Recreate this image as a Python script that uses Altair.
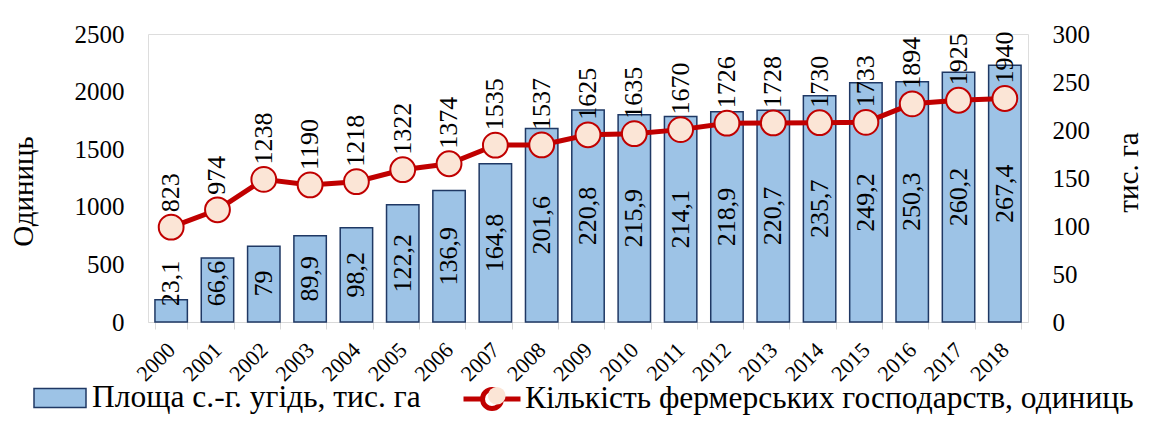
import altair as alt
import pandas as pd

years = [str(y) for y in range(2000, 2019)]
farms = [823, 974, 1238, 1190, 1218, 1322, 1374, 1535, 1537, 1625,
         1635, 1670, 1726, 1728, 1730, 1733, 1894, 1925, 1940]
area = [23.1, 66.6, 79, 89.9, 98.2, 122.2, 136.9, 164.8, 201.6, 220.8,
        215.9, 214.1, 218.9, 220.7, 235.7, 249.2, 250.3, 260.2, 267.4]
left_ticks = [0, 500, 1000, 1500, 2000, 2500]
right_ticks = [0, 50, 100, 150, 200, 250, 300]
area_name = "Площа с.-г. угідь, тис. га"
farms_name = "Кількість фермерських господарств, одиниць"

df = pd.DataFrame({
    "year": years, "farms": farms, "area": area,
    "s_area": area_name, "s_farms": farms_name, "s_farms2": farms_name,
})

FONT = "Liberation Serif"
GRAY = "#D9D9D9"
LEG_FS = 31.5
DY = -3
LINE_SYMBOL = ("M-1,0H-0.333 M0.333,0H1 M0.333,0A0.333,0.333 0 1,1 -0.333,0"
               "A0.333,0.333 0 1,1 0.333,0")

x = alt.X("year:N", sort=years,
          scale=alt.Scale(paddingInner=0.3, paddingOuter=0.15),
          axis=alt.Axis(title=None, labelAngle=315, labelAlign="right", labelBaseline="middle",
                        labelFontSize=22, labelFont=FONT, labelColor="black", labelPadding=17,
                        tickBand="extent", tickSize=7, tickColor=GRAY, domainColor=GRAY,
                        grid=False))

right_axis = alt.Axis(orient="right", values=right_ticks, format="d", title="тис. га",
                      titleAngle=270, titleX=100, titleY=138, titleAlign="center",
                      titleBaseline="middle", titleFontSize=29, titleFont=FONT,
                      titleFontWeight="normal", titleColor="black",
                      labelFontSize=25, labelFont=FONT, labelColor="black", labelPadding=24,
                      ticks=False, domain=False, grid=False)
left_axis = alt.Axis(orient="left", values=left_ticks, format="d", title="Одиниць",
                     titleAngle=270, titleX=-125, titleY=157, titleAlign="center",
                     titleBaseline="middle", titleFontSize=29, titleFont=FONT,
                     titleFontWeight="normal", titleColor="black",
                     labelFontSize=25, labelFont=FONT, labelColor="black", labelPadding=24,
                     ticks=False, domain=False, grid=False)

area_scale = alt.Scale(domain=[0, 300], nice=False)
farms_scale = alt.Scale(domain=[0, 2500], nice=False)

bars = alt.Chart().mark_bar(stroke="#1F3864", strokeWidth=1.5).encode(
    x=x,
    y=alt.Y("area:Q", scale=area_scale, axis=right_axis),
    fill=alt.Fill("s_area:N", scale=alt.Scale(range=["#9DC3E6"]),
                  legend=alt.Legend(title=None, orient="none", legendX=-115, legendY=340 + DY,
                                    symbolType="M-1,-0.365H1V0.365H-1Z", symbolSize=2704,
                                    symbolStrokeColor="#1F3864", symbolStrokeWidth=1.5,
                                    symbolOpacity=1, labelFontSize=LEG_FS, labelFont=FONT,
                                    labelColor="black", labelOffset=5, labelLimit=900, padding=0)),
)

bar_text = alt.Chart().transform_calculate(
    lab="max(datum.area / 2, 40)",
    txt="replace(datum.area + '', '.', ',')",
).mark_text(angle=270, align="center", baseline="middle", fontSize=26, font=FONT,
            color="black").encode(
    x=x,
    y=alt.Y("lab:Q", scale=area_scale, axis=right_axis),
    text="txt:N",
)

line = alt.Chart().mark_line(strokeWidth=5).encode(
    x=x,
    y=alt.Y("farms:Q", scale=farms_scale, axis=left_axis),
    stroke=alt.Stroke("s_farms:N", scale=alt.Scale(range=["#C00000"]),
                      legend=alt.Legend(title=None, orient="none", legendX=313, legendY=337 + DY,
                                        symbolType=LINE_SYMBOL, symbolSize=3249,
                                        symbolStrokeWidth=5, symbolStrokeColor="#C00000",
                                        labelFontSize=LEG_FS, labelFont=FONT,
                                        labelColor="black", labelOffset=2, labelLimit=900,
                                        padding=0)),
)

points = alt.Chart().mark_point(filled=False, size=616, fill="#FBE5D6", stroke="#C00000",
                                strokeWidth=2, opacity=1, fillOpacity=1).encode(
    x=x,
    y=alt.Y("farms:Q", scale=farms_scale, axis=left_axis),
    shape=alt.Shape("s_farms2:N", scale=alt.Scale(range=["circle"]),
                    legend=alt.Legend(title=None, orient="none", legendX=333, legendY=349 + DY,
                                      symbolSize=314, symbolFillColor="#FBE5D6",
                                      symbolStrokeColor="#C00000", symbolStrokeWidth=2,
                                      symbolOpacity=1, labelExpr="''",
                                      labelFontSize=LEG_FS, labelFont=FONT, padding=0)),
)

line_text = alt.Chart().mark_text(angle=270, align="left", baseline="middle", fontSize=26,
                                  font=FONT, color="black", dx=15).encode(
    x=x,
    y=alt.Y("farms:Q", scale=farms_scale, axis=left_axis),
    text=alt.Text("farms:Q", format="d"),
)

area_layer = alt.layer(bars, bar_text)
farms_layer = alt.layer(line, points, line_text)

chart = alt.layer(area_layer, farms_layer, data=df).resolve_scale(
    y="independent"
).properties(
    width=880, height=288,
    autosize=alt.AutoSizeParams(type="none"),
    padding={"left": 140, "top": 26, "right": 114, "bottom": 94},
).configure_view(
    stroke=GRAY, strokeWidth=1
).configure(background="white")

chart.save("out.html", embed_options={"renderer": "svg", "actions": False})
